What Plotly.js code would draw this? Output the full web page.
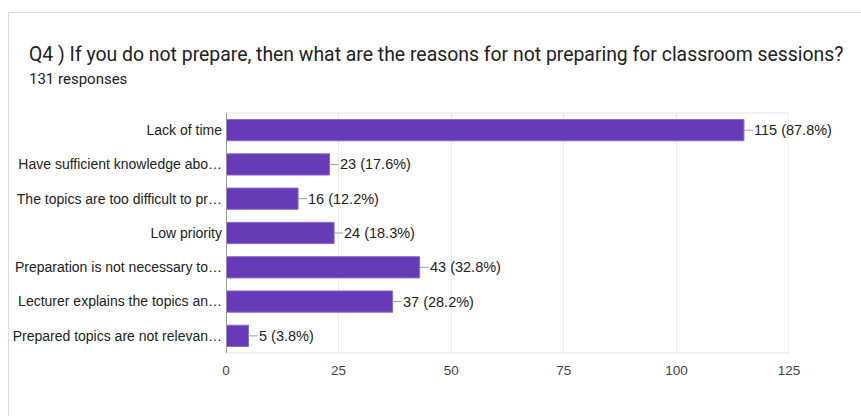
<!DOCTYPE html>
<html>
<head>
<meta charset="utf-8">
<script src="https://cdn.plot.ly/plotly-3.0.1.min.js"></script>
<style>
html,body{margin:0;padding:0;background:#fff;}
#wrap{position:relative;width:861px;height:416px;overflow:hidden;}
#chart{position:absolute;left:0;top:0;width:861px;height:416px;}
#card{position:absolute;left:8px;top:12px;width:900px;height:500px;border:1px solid #dadce0;pointer-events:none;box-sizing:border-box;}
</style>
</head>
<body>
<div id="wrap"><div id="chart"></div><div id="card"></div></div>
<script>
var categories = [
  "Lack of time",
  "Have sufficient knowledge abo…",
  "The topics are too difficult to pr…",
  "Low priority",
  "Preparation is not necessary to…",
  "Lecturer explains the topics an…",
  "Prepared topics are not relevan…"
];
var counts = [115, 23, 16, 24, 43, 37, 5];
var percents = ["87.8%", "17.6%", "12.2%", "18.3%", "32.8%", "28.2%", "3.8%"];
var xTicks = [0, 25, 50, 75, 100, 125];
var titleText = "Q4 ) If you do not prepare, then what are the reasons for not preparing for classroom sessions?";
var subtitleText = "131 responses";

var ml = 226, mr = 72, mt = 113, mb = 63, W = 861, H = 416;
var pw = W - ml - mr, ph = H - mt - mb;
var labelFont = 'Liberation Sans, Arial, sans-serif';

var annotations = categories.map(function(c, i){
  return {
    x: counts[i], y: c, xref: 'x', yref: 'y',
    text: counts[i] + " (" + percents[i] + ")",
    showarrow: true, arrowhead: 0, arrowwidth: 1, arrowcolor: '#9e9e9e',
    ax: 9, ay: 0, xanchor: 'left', standoff: 0, startstandoff: 0,
    font: {family: labelFont, size: 14.5, color: '#222222'},
    borderpad: 0
  };
});
annotations.push({
  xref: 'paper', yref: 'paper', x: (27 - ml) / pw, y: (H - mb - 54) / ph,
  xanchor: 'left', yanchor: 'middle', showarrow: false, text: titleText,
  font: {family: 'Roboto, sans-serif', size: 19.4, color: '#202124'}
});
annotations.push({
  xref: 'paper', yref: 'paper', x: (27 - ml) / pw, y: (H - mb - 79) / ph,
  xanchor: 'left', yanchor: 'middle', showarrow: false, text: subtitleText,
  font: {family: 'Roboto, sans-serif', size: 15, color: '#202124'}
});

var trace = {
  type: 'bar', orientation: 'h',
  x: counts, y: categories,
  marker: {color: '#673ab7', line: {color: '#8e6bd0', width: 1}},
  hoverinfo: 'none'
};

var layout = {
  width: W, height: H,
  margin: {l: ml, r: mr, t: mt, b: mb, pad: 0},
  paper_bgcolor: '#ffffff', plot_bgcolor: '#ffffff',
  showlegend: false,
  bargap: 0.38,
  font: {family: labelFont, size: 14, color: '#222222'},
  xaxis: {
    range: [0, 125], tickvals: xTicks, ticktext: xTicks.map(String),
    showgrid: true, gridcolor: '#ebebeb', gridwidth: 1,
    zeroline: true, zerolinecolor: '#9e9e9e', zerolinewidth: 1,
    showline: false,
    ticks: '', ticklabelstandoff: 7,
    tickfont: {family: labelFont, size: 13.5, color: '#444444'},
    fixedrange: true
  },
  yaxis: {
    autorange: 'reversed', type: 'category',
    showgrid: false, zeroline: false, showline: false,
    ticks: '', ticklabelstandoff: 3,
    tickfont: {family: labelFont, size: 14, color: '#222222'},
    fixedrange: true
  },
  shapes: [{
    type: 'rect', xref: 'x', yref: 'paper', x0: 0, x1: 125, y0: 0, y1: 1,
    line: {color: '#e6e6e6', width: 1}, fillcolor: 'rgba(0,0,0,0)', layer: 'below'
  }, {
    type: 'line', xref: 'x', yref: 'paper', x0: 0, x1: 0, y0: 0, y1: 1,
    line: {color: '#9e9e9e', width: 1.5}, layer: 'above'
  }],
  annotations: annotations
};

Plotly.newPlot('chart', [trace], layout, {displayModeBar: false, staticPlot: true});
</script>
</body>
</html>
